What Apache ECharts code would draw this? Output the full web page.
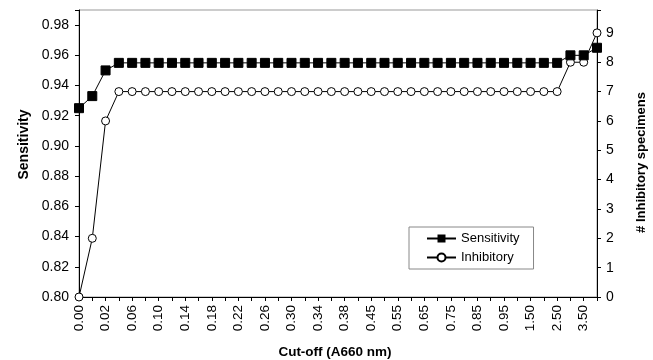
<!DOCTYPE html>
<html>
<head>
<meta charset="utf-8">
<script src="https://cdn.jsdelivr.net/npm/echarts@6/dist/echarts.min.js"></script>
<style>
html,body{margin:0;padding:0;background:#fff;}
#chart{width:653px;height:360px;}
</style>
</head>
<body>
<div id="chart"></div>
<script>
var categories = ['0.00','0.01','0.02','0.04','0.06','0.08','0.10','0.12','0.14','0.16','0.18','0.20','0.22','0.24','0.26','0.28','0.30','0.32','0.34','0.36','0.38','0.40','0.45','0.50','0.55','0.60','0.65','0.70','0.75','0.80','0.85','0.90','0.95','1.00','1.50','2.00','2.50','3.00','3.50','4.00'];
var sensitivity = [0.925,0.933,0.950,0.955,0.955,0.955,0.955,0.955,0.955,0.955,0.955,0.955,0.955,0.955,0.955,0.955,0.955,0.955,0.955,0.955,0.955,0.955,0.955,0.955,0.955,0.955,0.955,0.955,0.955,0.955,0.955,0.955,0.955,0.955,0.955,0.955,0.955,0.960,0.960,0.965];
var inhibitory = [0,2,6,7,7,7,7,7,7,7,7,7,7,7,7,7,7,7,7,7,7,7,7,7,7,7,7,7,7,7,7,7,7,7,7,7,7,8,8,9];

var font = 'Liberation Sans, Arial, sans-serif';
var chart = echarts.init(document.getElementById('chart'), null, {renderer: 'canvas'});
chart.setOption({
  animation: false,
  backgroundColor: '#fff',
  grid: {left: 79, right: 56, top: 10, bottom: 63, show: true, borderColor: '#999', borderWidth: 1, containLabel: false, outerBoundsMode: 'none'},
  legend: {
    orient: 'vertical',
    left: 409, top: 227,
    itemWidth: 29, itemHeight: 10, itemGap: 6,
    padding: [5, 14, 5, 17],
    borderColor: '#888', borderWidth: 1,
    textStyle: {fontFamily: font, fontSize: 13, color: '#000'},
    data: ['Sensitivity', 'Inhibitory']
  },
  xAxis: {
    type: 'category',
    data: categories,
    boundaryGap: false,
    name: 'Cut-off (A660 nm)',
    nameLocation: 'middle',
    nameGap: 48,
    nameTextStyle: {fontFamily: font, fontSize: 13.5, fontWeight: 'bold', color: '#000', padding: [0, 6, 0, 0]},
    axisLine: {lineStyle: {color: '#000', width: 1}},
    axisTick: {interval: 0, length: 4, lineStyle: {color: '#000'}},
    axisLabel: {interval: 1, rotate: 90, margin: 8, fontFamily: font, fontSize: 13.5, color: '#000'},
    splitLine: {show: false}
  },
  yAxis: [{
    type: 'value',
    min: 0.8, max: 0.99, interval: 0.02,
    name: 'Sensitivity',
    nameLocation: 'middle',
    nameGap: 46,
    nameTextStyle: {fontFamily: font, fontSize: 14, fontWeight: 'bold', color: '#000', padding: [0, 0, 0, 18]},
    axisLine: {show: true, lineStyle: {color: '#000', width: 1}},
    axisTick: {show: true, length: 4, lineStyle: {color: '#000'}},
    axisLabel: {
      fontFamily: font, fontSize: 14, color: '#000', margin: 10,
      formatter: function (v) { var k = Math.round(v * 100); return (k % 2 === 0 && Math.abs(v * 100 - k) < 1e-6) ? v.toFixed(2) : ''; }
    },
    splitLine: {show: false}
  }, {
    type: 'value',
    min: 0, max: 9.78, interval: 1,
    position: 'right',
    name: '# Inhibitory specimens',
    nameLocation: 'middle',
    nameGap: 38,
    nameRotate: 90,
    nameTextStyle: {fontFamily: font, fontSize: 13, fontWeight: 'bold', color: '#000', padding: [0, 18, 0, 0]},
    axisLine: {show: true, lineStyle: {color: '#000', width: 1}},
    axisTick: {show: true, length: 4, lineStyle: {color: '#000'}},
    axisLabel: {
      fontFamily: font, fontSize: 14, color: '#000', margin: 9,
      formatter: function (v) { return Math.abs(v - Math.round(v)) < 1e-6 ? String(Math.round(v)) : ''; }
    },
    splitLine: {show: false}
  }],
  series: [{
    name: 'Sensitivity',
    type: 'line',
    yAxisIndex: 0,
    data: sensitivity,
    symbol: 'rect',
    symbolSize: 9,
    showAllSymbol: true,
    itemStyle: {color: '#000', borderColor: '#000'},
    lineStyle: {color: '#000', width: 1},
    z: 3
  }, {
    name: 'Inhibitory',
    type: 'line',
    yAxisIndex: 1,
    data: inhibitory,
    symbol: 'circle',
    symbolSize: 8,
    showAllSymbol: true,
    itemStyle: {color: '#fff', borderColor: '#000', borderWidth: 1},
    lineStyle: {color: '#000', width: 1},
    z: 2
  }]
});
</script>
</body>
</html>
